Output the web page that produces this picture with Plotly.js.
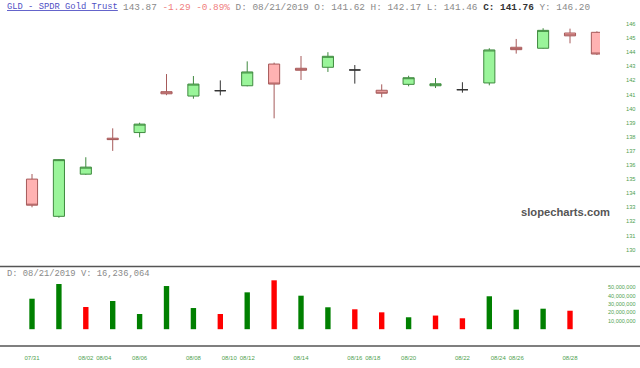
<!DOCTYPE html>
<html>
<head>
<meta charset="utf-8">
<script src="https://cdn.plot.ly/plotly-3.0.1.min.js"></script>
<style>html,body{margin:0;padding:0;background:#fff;}#chart{width:640px;height:368px;}</style>
</head>
<body>
<div id="chart"></div>
<script>
// ---- data ----
const tradeDates = ['2019-07-31','2019-08-01','2019-08-02','2019-08-05','2019-08-06','2019-08-07','2019-08-08','2019-08-09','2019-08-12','2019-08-13','2019-08-14','2019-08-15','2019-08-16','2019-08-19','2019-08-20','2019-08-21','2019-08-22','2019-08-23','2019-08-26','2019-08-27','2019-08-28','2019-08-29'];
const openP  = [135.00,132.36,135.35,137.90,138.30,141.20,140.89,141.27,141.62,143.16,142.86,142.93,142.74,141.30,141.72,141.62,141.34,141.82,144.35,144.28,145.36,145.41];
const highP  = [135.36,136.40,136.55,138.60,139.00,142.45,142.31,142.00,143.35,143.26,143.73,144.00,143.09,141.72,142.33,142.17,141.87,144.28,144.94,145.70,145.67,145.48];
const lowP   = [133.00,132.26,135.30,137.00,137.96,140.95,140.70,140.94,141.58,139.31,142.03,142.60,141.77,140.80,141.58,141.46,141.13,141.65,143.90,144.25,144.63,143.80];
const closeP = [133.15,136.38,135.85,137.80,138.90,141.05,141.74,141.27,142.60,141.74,142.72,143.71,142.74,141.09,142.19,141.76,141.34,144.16,144.18,145.55,145.16,143.87];
const volume = [36300000,53800000,26400000,33600000,18100000,51400000,25200000,18100000,43900000,58200000,39900000,26100000,23700000,20100000,14200000,16236064,13000000,39200000,23200000,24400000,22000000,null];
const labelDates = ['2019-07-31','2019-08-02','2019-08-04','2019-08-06','2019-08-08','2019-08-10','2019-08-12','2019-08-14','2019-08-16','2019-08-18','2019-08-20','2019-08-22','2019-08-24','2019-08-26','2019-08-28'];
const priceTicks = [130,131,132,133,134,135,136,137,138,139,140,141,142,143,144,145,146];
const volTicks = [10000000,20000000,30000000,40000000,50000000];
const symbolName = 'GLD - SPDR Gold Trust';
const infoIndex = 15;      // day shown in the header (08/21/2019)
const yearHigh = 146.20;
const watermark = 'slopecharts.com';

// ---- derived ----
const idx = tradeDates.map((d,i)=>i);
const t = d => new Date(d+'T00:00:00Z').getTime();
function calPos(d){
  const v=t(d);
  for(let i=0;i<tradeDates.length-1;i++){
    const a=t(tradeDates[i]), b=t(tradeDates[i+1]);
    if(v>=a && v<b) return i+(v-a)/(b-a);
  }
  return tradeDates.length-1;
}
const tickPos = labelDates.map(calPos);
const tickTxt = labelDates.map(d=>d.slice(5,7)+'/'+d.slice(8,10));
const isDoji = idx.map(i=>openP[i]===closeP[i]);
const pick = (arr,cond)=>idx.filter(i=>cond(i)).map(i=>arr[i]);
const volColor = idx.map(i=> (i===0 || closeP[i]>=closeP[i-1]) ? '#008000' : '#ff0000');

const n=closeP.length;
const last=closeP[n-1], prev=closeP[n-2];
const chg=last-prev, pct=chg/prev*100;
const fmtDate = d => d.slice(5,7)+'/'+d.slice(8,10)+'/'+d.slice(0,4);

const traces = [
  {type:'candlestick', x:pick(idx,i=>!isDoji[i]), open:pick(openP,i=>!isDoji[i]), high:pick(highP,i=>!isDoji[i]), low:pick(lowP,i=>!isDoji[i]), close:pick(closeP,i=>!isDoji[i]),
   increasing:{line:{color:'#3f8a3f',width:1}, fillcolor:'#9af59a'},
   decreasing:{line:{color:'#a65a5a',width:1}, fillcolor:'#ffb2b2'},
   whiskerwidth:0, xaxis:'x', yaxis:'y', hoverinfo:'skip'},
  {type:'candlestick', x:pick(idx,i=>isDoji[i]), open:pick(openP,i=>isDoji[i]), high:pick(highP,i=>isDoji[i]), low:pick(lowP,i=>isDoji[i]), close:pick(closeP,i=>isDoji[i]),
   increasing:{line:{color:'#333333',width:1}, fillcolor:'#333333'},
   decreasing:{line:{color:'#333333',width:1}, fillcolor:'#333333'},
   whiskerwidth:0, xaxis:'x', yaxis:'y', hoverinfo:'skip'},
  {type:'bar', x:idx, y:volume, width:0.2, marker:{color:volColor, line:{width:0}}, xaxis:'x2', yaxis:'y2', hoverinfo:'skip'}
];

const H=368, W=640;
const py = y => (H-y)/H;
const pxX = x => x/W;
const xr = [-1.19, 21.115];
const mono = 'Liberation Mono, Courier New, monospace';
const grey = '#8a8a8a';
const pink = '#f08080';
const d = infoIndex;
const sp = (c,s)=>'<span style="color:'+c+'">'+s+'</span>';
const headerRest = sp(grey,last.toFixed(2)) + ' ' + sp(pink,chg.toFixed(2)+' '+pct.toFixed(2)+'%') + ' ' +
  sp(grey,'D: '+fmtDate(tradeDates[d])+' O: '+openP[d].toFixed(2)+' H: '+highP[d].toFixed(2)+' L: '+lowP[d].toFixed(2)) + ' ' +
  '<b>'+sp('#333333','C: '+closeP[d].toFixed(2))+'</b> ' + sp(grey,'Y: '+yearHigh.toFixed(2));

const annotations = [
  {xref:'paper',yref:'paper',x:pxX(5),y:py(7),xanchor:'left',yanchor:'middle',showarrow:false,
   text:'<u>'+symbolName+'</u>',font:{family:mono,size:8.8,color:'#4f4fc4'}},
  {xref:'paper',yref:'paper',x:pxX(121),y:py(7),xanchor:'left',yanchor:'middle',showarrow:false,
   text:headerRest,font:{family:mono,size:9.4,color:grey}},
  {xref:'paper',yref:'paper',x:pxX(5),y:py(274),xanchor:'left',yanchor:'middle',showarrow:false,
   text:'D: '+fmtDate(tradeDates[d])+' V: '+volume[d].toLocaleString('en-US'),font:{family:mono,size:8.8,color:grey}},
  {xref:'paper',yref:'paper',x:pxX(565),y:py(212),xanchor:'center',yanchor:'middle',showarrow:false,
   text:'<b>'+watermark+'</b>',font:{family:'Liberation Sans, Arial, sans-serif',size:11.2,color:'#555555'}}
];

const layout = {
  width:W, height:H, margin:{l:0,r:0,t:0,b:0,pad:0},
  paper_bgcolor:'#ffffff', plot_bgcolor:'#ffffff', showlegend:false,
  boxgap:0.41, boxgroupgap:0.3,
  xaxis:{domain:[0,600/W], range:xr, showticklabels:false, showgrid:false, zeroline:false, showline:false, ticks:'', rangeslider:{visible:false}, fixedrange:true},
  yaxis:{domain:[py(266),py(10)], range:[128.837,146.993], side:'right', tickvals:priceTicks, ticks:'', showgrid:false, zeroline:false, showline:false,
         tickfont:{family:'Liberation Sans, Arial, sans-serif',size:5.7,color:'#4f9f4f'}, ticklabelstandoff:25, fixedrange:true},
  xaxis2:{domain:[0,600/W], range:xr, anchor:'y2', tickvals:tickPos, ticktext:tickTxt, ticks:'', tickangle:0, showgrid:false, zeroline:false, showline:false,
          tickfont:{family:'Liberation Sans, Arial, sans-serif',size:6,color:'#4f9f4f'}, ticklabelstandoff:7, fixedrange:true},
  yaxis2:{domain:[py(346),py(267)], range:[-20000000,74050000], anchor:'x2', side:'right', tickvals:volTicks, tickformat:',d', ticks:'',
          showgrid:false, zeroline:false, showline:false, tickfont:{family:'Liberation Sans, Arial, sans-serif',size:5.5,color:'#4f9f4f'}, ticklabelstandoff:7, fixedrange:true},
  shapes:[
    {type:'line',xref:'paper',yref:'paper',x0:0,x1:1,y0:py(266.5),y1:py(266.5),line:{color:'#555555',width:1.5}},
    {type:'line',xref:'paper',yref:'paper',x0:0,x1:1,y0:py(346),y1:py(346),line:{color:'#555555',width:1.5}}
  ],
  annotations:annotations
};

Plotly.newPlot('chart', traces, layout, {staticPlot:true, displayModeBar:false});
</script>
</body>
</html>
